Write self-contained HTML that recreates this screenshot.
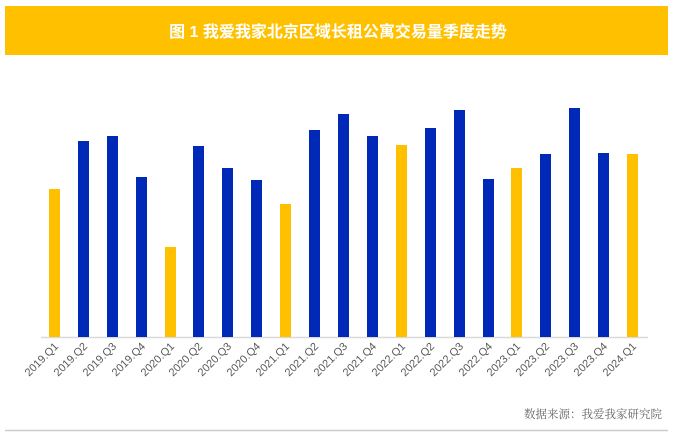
<!DOCTYPE html>
<html><head><meta charset="utf-8"><style>
body{margin:0;background:#fff;width:676px;height:437px;overflow:hidden;font-family:"Liberation Sans","Noto Sans CJK SC",sans-serif}
</style></head><body>
<svg width="676" height="437" xmlns="http://www.w3.org/2000/svg">
<rect x="5" y="6" width="663" height="49" fill="#FFC000"/>
<text x="338" y="37" text-anchor="middle" fill="#fff" font-size="16" font-weight="bold" font-family="Liberation Sans,Noto Sans CJK SC,sans-serif">图 1  我爱我家北京区域长租公寓交易量季度走势</text>
<line x1="41" y1="337.5" x2="648" y2="337.5" stroke="#d9d9d9" stroke-width="1.5"/>
<line x1="5" y1="430.5" x2="668" y2="430.5" stroke="#cccccc" stroke-width="1.5"/>
<text x="662" y="418" text-anchor="end" fill="#666" font-size="11.5" font-family="Liberation Serif,Noto Serif CJK SC,serif">数据来源：我爱我家研究院</text>
<g fill="#595959" font-size="11" font-family="Liberation Sans,sans-serif">
<text transform="translate(59,347) rotate(-45)" text-anchor="end">2019.Q1</text>
<text transform="translate(88,347) rotate(-45)" text-anchor="end">2019.Q2</text>
<text transform="translate(117,347) rotate(-45)" text-anchor="end">2019.Q3</text>
<text transform="translate(146,347) rotate(-45)" text-anchor="end">2019.Q4</text>
<text transform="translate(175,347) rotate(-45)" text-anchor="end">2020.Q1</text>
<text transform="translate(203,347) rotate(-45)" text-anchor="end">2020.Q2</text>
<text transform="translate(232,347) rotate(-45)" text-anchor="end">2020.Q3</text>
<text transform="translate(261,347) rotate(-45)" text-anchor="end">2020.Q4</text>
<text transform="translate(290,347) rotate(-45)" text-anchor="end">2021.Q1</text>
<text transform="translate(319,347) rotate(-45)" text-anchor="end">2021.Q2</text>
<text transform="translate(348,347) rotate(-45)" text-anchor="end">2021.Q3</text>
<text transform="translate(377,347) rotate(-45)" text-anchor="end">2021.Q4</text>
<text transform="translate(406,347) rotate(-45)" text-anchor="end">2022.Q1</text>
<text transform="translate(435,347) rotate(-45)" text-anchor="end">2022.Q2</text>
<text transform="translate(464,347) rotate(-45)" text-anchor="end">2022.Q3</text>
<text transform="translate(493,347) rotate(-45)" text-anchor="end">2022.Q4</text>
<text transform="translate(521,347) rotate(-45)" text-anchor="end">2023.Q1</text>
<text transform="translate(550,347) rotate(-45)" text-anchor="end">2023.Q2</text>
<text transform="translate(579,347) rotate(-45)" text-anchor="end">2023.Q3</text>
<text transform="translate(608,347) rotate(-45)" text-anchor="end">2023.Q4</text>
<text transform="translate(637,347) rotate(-45)" text-anchor="end">2024.Q1</text>
</g>
<g>
<rect x="49" y="189" width="11" height="148" fill="#FFC000"/>
<rect x="78" y="141" width="11" height="196" fill="#0029B8"/>
<rect x="107" y="136" width="11" height="201" fill="#0029B8"/>
<rect x="136" y="177" width="11" height="160" fill="#0029B8"/>
<rect x="165" y="247" width="11" height="90" fill="#FFC000"/>
<rect x="193" y="146" width="11" height="191" fill="#0029B8"/>
<rect x="222" y="168" width="11" height="169" fill="#0029B8"/>
<rect x="251" y="180" width="11" height="157" fill="#0029B8"/>
<rect x="280" y="204" width="11" height="133" fill="#FFC000"/>
<rect x="309" y="130" width="11" height="207" fill="#0029B8"/>
<rect x="338" y="114" width="11" height="223" fill="#0029B8"/>
<rect x="367" y="136" width="11" height="201" fill="#0029B8"/>
<rect x="396" y="145" width="11" height="192" fill="#FFC000"/>
<rect x="425" y="128" width="11" height="209" fill="#0029B8"/>
<rect x="454" y="110" width="11" height="227" fill="#0029B8"/>
<rect x="483" y="179" width="11" height="158" fill="#0029B8"/>
<rect x="511" y="168" width="11" height="169" fill="#FFC000"/>
<rect x="540" y="154" width="11" height="183" fill="#0029B8"/>
<rect x="569" y="108" width="11" height="229" fill="#0029B8"/>
<rect x="598" y="153" width="11" height="184" fill="#0029B8"/>
<rect x="627" y="154" width="11" height="183" fill="#FFC000"/>
</g>
</svg>
</body></html>
